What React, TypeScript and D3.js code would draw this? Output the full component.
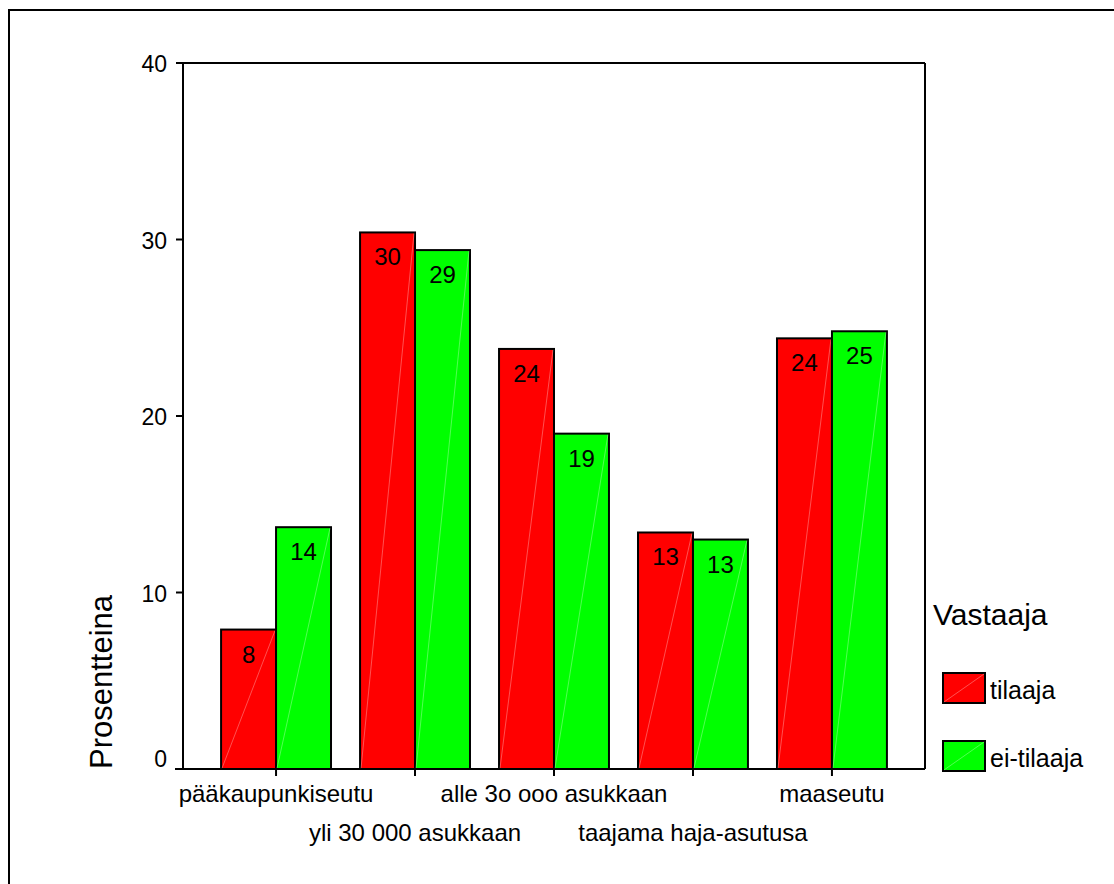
import React from "react";
import * as d3 from "d3";

const categories = [
  "pääkaupunkiseutu",
  "yli 30 000 asukkaan",
  "alle 3o ooo asukkaan",
  "taajama haja-asutusa",
  "maaseutu",
];
const seriesNames = ["tilaaja", "ei-tilaaja"];
const tilaaja = [7.9, 30.4, 23.8, 13.4, 24.4];
const eiTilaaja = [13.7, 29.4, 19.0, 13.0, 24.8];
const seriesColors = ["#ff0000", "#00ff00"];
const yTicks = [0, 10, 20, 30, 40];

const W = 1114;
const H = 884;
const FONT = "'Liberation Sans', Arial, sans-serif";

export default function App() {
  const left = 183, right = 925, top = 63, bottom = 769;
  const y = d3.scaleLinear().domain([0, 40]).range([bottom, top]);
  const x = d3
    .scaleBand<string>()
    .domain(categories)
    .range([left, right])
    .paddingInner(0.209)
    .paddingOuter(0.274);
  const inner = d3.scaleBand<number>().domain([0, 1]).range([0, x.bandwidth()]);
  const series = [tilaaja, eiTilaaja];

  return (
    <svg
      width={W}
      height={H}
      style={{ position: "absolute", left: 0, top: 0, background: "#fff" }}
      fontFamily={FONT}
    >
      <rect x={9} y={10} width={W + 20} height={H + 20} fill="none" stroke="#000" strokeWidth={2} />
      {/* plot frame */}
      <line x1={left - 7} x2={right} y1={top} y2={top} stroke="#000" strokeWidth={2} />
      <line x1={right} x2={right} y1={top} y2={bottom} stroke="#000" strokeWidth={2} />
      <line x1={left} x2={left} y1={top} y2={bottom} stroke="#000" strokeWidth={2} />
      {/* bars */}
      {series.map((vals, si) =>
        vals.map((v, i) => {
          const bx = (x(categories[i]) as number) + (inner(si) as number);
          const bw = inner.bandwidth();
          const by = y(v);
          const bh = bottom - by;
          return (
            <g key={`${si}-${i}`}>
              <rect x={bx} y={by} width={bw} height={bh} fill={seriesColors[si]} stroke="#000" strokeWidth={2} />
              <line x1={bx + 1} y1={bottom - 1} x2={bx + bw - 1} y2={by + 1} stroke="#fff" strokeOpacity={0.45} strokeWidth={0.7} />
              <text x={bx + bw / 2} y={by + 33} textAnchor="middle" fontSize={24} fill="#000">
                {Math.round(v)}
              </text>
            </g>
          );
        })
      )}
      {/* x axis baseline */}
      <line x1={left - 8} x2={right} y1={bottom} y2={bottom} stroke="#000" strokeWidth={2} />
      {/* y ticks */}
      {yTicks.map((t) => (
        <g key={t}>
          <line x1={left - 7} x2={left} y1={y(t)} y2={y(t)} stroke="#000" strokeWidth={2} />
          <text
            x={167}
            y={y(t) + (t === 0 ? -2 : 9)}
            textAnchor="end"
            fontSize={23}
            fill="#000"
          >
            {t}
          </text>
        </g>
      ))}
      {/* x ticks and labels */}
      {categories.map((c, i) => {
        const cx = (x(c) as number) + x.bandwidth() / 2;
        return (
          <g key={c}>
            <line x1={cx} x2={cx} y1={bottom} y2={bottom + 7} stroke="#000" strokeWidth={2} />
            <text x={cx} y={i % 2 === 0 ? 802 : 841} textAnchor="middle" fontSize={24} fill="#000">
              {c}
            </text>
          </g>
        );
      })}
      {/* y title */}
      <text
        transform={`translate(112, 682) rotate(-90)`}
        textAnchor="middle"
        fontSize={31}
        fill="#000"
      >
        Prosentteina
      </text>
      {/* legend */}
      <text x={933} y={625} fontSize={30} fill="#000">
        Vastaaja
      </text>
      {seriesNames.map((n, i) => {
        const ly = 673 + i * 68;
        return (
          <g key={n}>
            <rect x={943} y={ly} width={42} height={30} fill={seriesColors[i]} stroke="#000" strokeWidth={2} />
            <line x1={944} y1={ly + 29} x2={984} y2={ly + 1} stroke="#fff" strokeOpacity={0.45} strokeWidth={0.7} />
            <text x={990} y={ly + 26} fontSize={25} fill="#000">
              {n}
            </text>
          </g>
        );
      })}
    </svg>
  );
}
